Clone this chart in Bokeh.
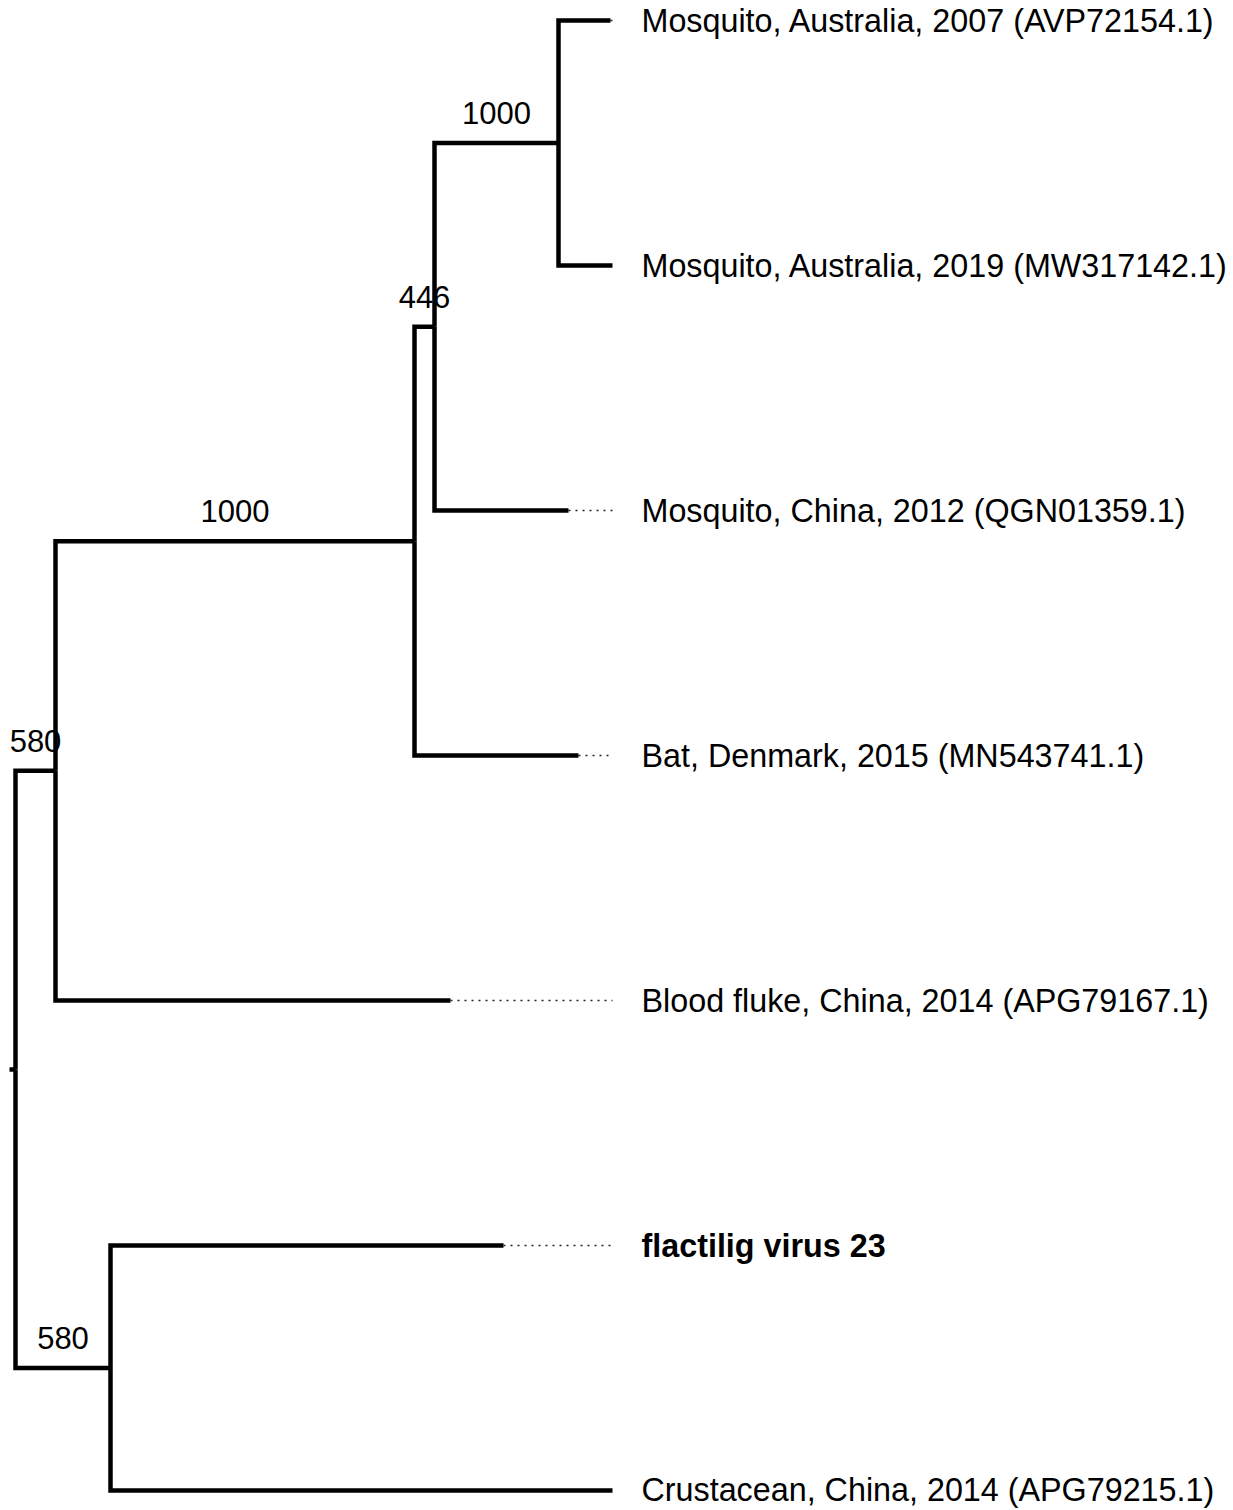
from bokeh.plotting import figure
from bokeh.models import Range1d, ColumnDataSource
from bokeh.core.properties import value
from bokeh.embed import file_html
from bokeh.resources import INLINE

# ---- tree data ----
node_names = ["root", "A", "B", "C", "D", "E",
              "L1", "L2", "L3", "L4", "L5", "L6", "L7"]
node_parent = [None, "root", "A", "B", "C", "root",
               "D", "D", "C", "B", "A", "E", "E"]
branch_len = [0.0, 0.040, 0.359, 0.020, 0.124, 0.095,
              0.052, 0.054, 0.134, 0.164, 0.395, 0.393, 0.502]
support = [None, "580", "1000", "446", "1000", "580",
           None, None, None, None, None, None, None]
tip_labels = {
    "L1": "Mosquito, Australia, 2007 (AVP72154.1)",
    "L2": "Mosquito, Australia, 2019 (MW317142.1)",
    "L3": "Mosquito, China, 2012 (QGN01359.1)",
    "L4": "Bat, Denmark, 2015 (MN543741.1)",
    "L5": "Blood fluke, China, 2014 (APG79167.1)",
    "L6": "flactilig virus 23",
    "L7": "Crustacean, China, 2014 (APG79215.1)",
}
tip_order = ["L1", "L2", "L3", "L4", "L5", "L6", "L7"]
bold_tips = ["L6"]
root_edge = 0.006

# ---- layout computation ----
parent = dict(zip(node_names, node_parent))
blen = dict(zip(node_names, branch_len))
sup = dict(zip(node_names, support))
children = {n: [] for n in node_names}
for n, pa in parent.items():
    if pa is not None:
        children[pa].append(n)

xpos = {}
def set_x(n, x0):
    xpos[n] = x0 + blen[n]
    for c in children[n]:
        set_x(c, xpos[n])
set_x("root", 0.0)

ypos = {}
for i, t in enumerate(tip_order):
    ypos[t] = i + 1
def set_y(n):
    if n in ypos:
        return ypos[n]
    ys = [set_y(c) for c in children[n]]
    ypos[n] = sum(ys) / len(ys)
    return ypos[n]
set_y("root")

xs, ys = [], []
for n in node_names:
    pa = parent[n]
    if pa is None:
        continue
    xs.append([xpos[pa], xpos[pa], xpos[n]])
    ys.append([ypos[pa], ypos[n], ypos[n]])
# root edge
xs.append([-root_edge, 0.0])
ys.append([ypos["root"], ypos["root"]])

max_x = max(xpos[t] for t in tip_order)
dx, dy = [], []
for t in tip_order:
    if xpos[t] < max_x - 1e-9:
        dx.append([xpos[t], max_x])
        dy.append([ypos[t], ypos[t]])

p = figure(width=1233, height=1510, output_backend="svg", toolbar_location=None,
           x_range=Range1d(-0.015, 1.218), y_range=Range1d(7.081633, 0.918367),
           min_border=0, outline_line_color=None)
p.axis.visible = False
p.grid.visible = False
p.background_fill_color = "white"
p.border_fill_color = "white"

p.multi_line(dx, dy, line_color="#222222", line_width=1.5, line_dash="2 5")
p.multi_line(xs, ys, line_color="black", line_width=4.5, line_join="miter")

tsrc = ColumnDataSource(dict(
    x=[max_x] * len(tip_order),
    y=[ypos[t] for t in tip_order],
    text=[tip_labels[t] for t in tip_order],
    style=["bold" if t in bold_tips else "normal" for t in tip_order],
))
p.text(x="x", y="y", text="text", source=tsrc, x_offset=29,
       text_font=value("Liberation Sans"), text_font_size="32.3px",
       text_font_style="style", text_baseline="middle", text_align="left",
       text_color="black")

bx, by, bt = [], [], []
for n in node_names:
    if sup[n] is not None:
        bx.append((xpos[n] + xpos[parent[n]]) / 2)
        by.append(ypos[n])
        bt.append(sup[n])
p.text(x=bx, y=by, text=bt, y_offset=-30,
       text_font=value("Liberation Sans"), text_font_size="31px",
       text_baseline="middle", text_align="center", text_color="black")

open("out.html", "w").write(file_html(p, INLINE))
